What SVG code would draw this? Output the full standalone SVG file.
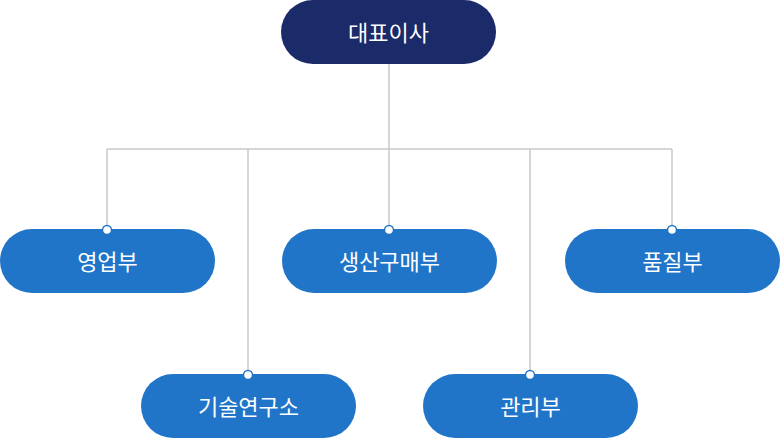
<svg xmlns="http://www.w3.org/2000/svg" width="780" height="440" viewBox="0 0 780 440">
<style>
.node{fill:#2075c8}
.top{fill:#1b2a69}
.lbl{font-family:"Noto Sans CJK KR","Noto Sans",sans-serif;font-size:22px;font-weight:400;fill:#ffffff;text-anchor:middle;dominant-baseline:central}
.ln{fill:none;stroke:#c9c9c9;stroke-width:1.5}
.dot{fill:#ffffff;stroke:#2075c8;stroke-width:1.5}
</style>
<g id="connectors">
<path class="ln" d="M389 64V149M107 149H672M107 149V230M248 149V375M389 149V230M530 149V375M672 149V230"/>
</g>
<g id="ceo"><rect class="top" x="281" y="0" width="215" height="64" rx="32"/><text class="lbl" x="388.5" y="31">대표이사</text></g>
<g id="sales"><rect class="node" x="0" y="229" width="215" height="64" rx="32"/><text class="lbl" x="107.5" y="260">영업부</text><circle class="dot" cx="107" cy="230" r="4.5"/></g>
<g id="production"><rect class="node" x="282" y="229" width="215" height="64" rx="32"/><text class="lbl" x="389.5" y="260">생산구매부</text><circle class="dot" cx="389" cy="230" r="4.5"/></g>
<g id="quality"><rect class="node" x="565" y="229" width="215" height="64" rx="32"/><text class="lbl" x="672.5" y="260">품질부</text><circle class="dot" cx="672" cy="230" r="4.5"/></g>
<g id="rnd"><rect class="node" x="141" y="374" width="215" height="64" rx="32"/><text class="lbl" x="248.5" y="405">기술연구소</text><circle class="dot" cx="248" cy="375" r="4.5"/></g>
<g id="admin"><rect class="node" x="423" y="374" width="215" height="64" rx="32"/><text class="lbl" x="530.5" y="405">관리부</text><circle class="dot" cx="530" cy="375" r="4.5"/></g>
</svg>
